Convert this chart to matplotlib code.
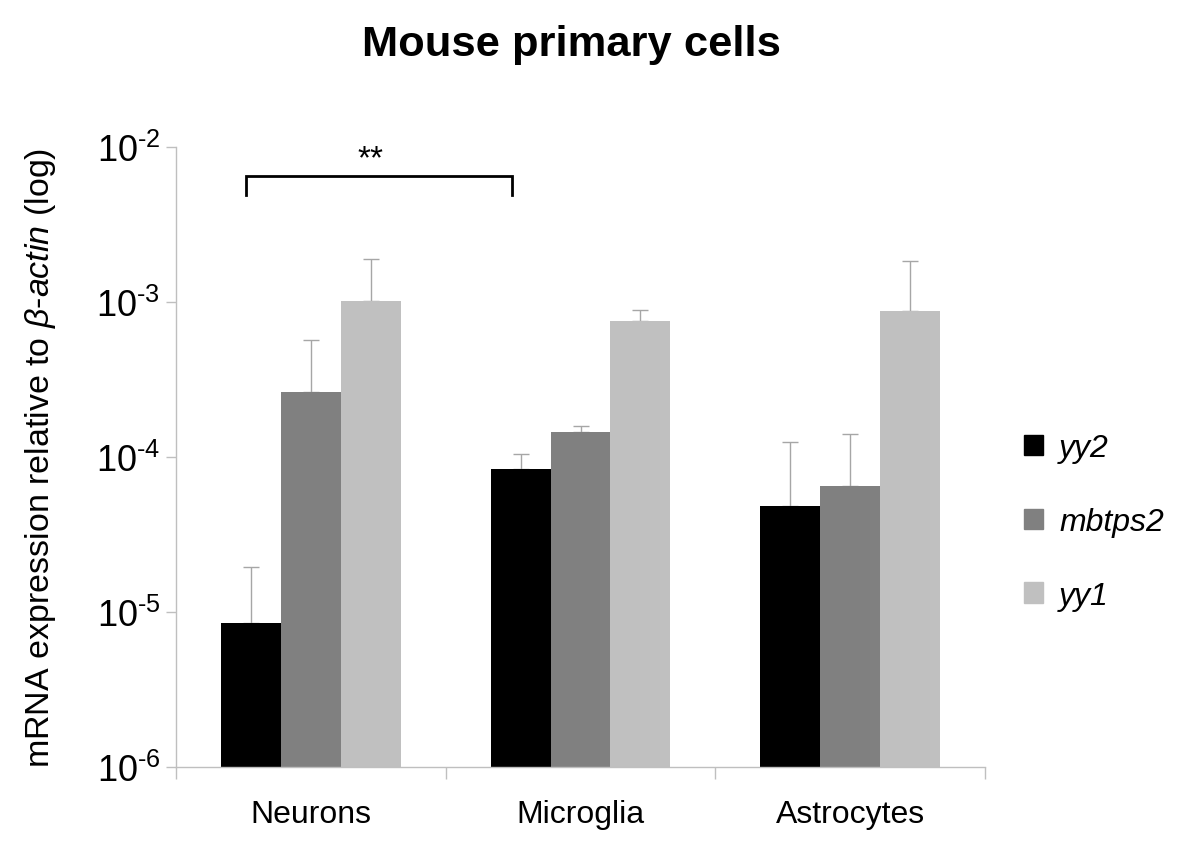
import matplotlib
matplotlib.use('Agg')
import matplotlib.pyplot as plt
import matplotlib.patches as mpatches
import numpy as np

plt.rcParams['font.family'] = ['Liberation Sans', 'DejaVu Sans']
plt.rcParams['mathtext.fontset'] = 'custom'
plt.rcParams['mathtext.rm'] = 'Liberation Sans'
plt.rcParams['mathtext.it'] = 'Liberation Sans:italic'

# ── Data ────────────────────────────────────────────────────
cell_types = ['Neurons', 'Microglia', 'Astrocytes']
genes = ['yy2', 'mbtps2', 'yy1']
yy2_mean    = [8.5e-6, 8.4e-5, 4.8e-5]
yy2_top     = [1.95e-5, 1.05e-4, 1.25e-4]
mbtps2_mean = [2.63e-4, 1.45e-4, 6.5e-5]
mbtps2_top  = [5.7e-4, 1.58e-4, 1.41e-4]
yy1_mean    = [1.01e-3, 7.55e-4, 8.75e-4]
yy1_top     = [1.89e-3, 8.9e-4, 1.84e-3]
tick_exps = [6, 5, 4, 3, 2]

means = [yy2_mean, mbtps2_mean, yy1_mean]
tops = [yy2_top, mbtps2_top, yy1_top]
colors = ['#000000', '#808080', '#c0c0c0']
AXIS_COLOR = '#bfbfbf'
ERR_COLOR = '#a6a6a6'

fig = plt.figure(figsize=(12, 8.62), dpi=100)
ax = fig.add_axes([176/1200, 1 - 768/862, 809/1200, 620/862])

x = np.arange(len(cell_types))
w = 0.222
for i, (m, t, c, g) in enumerate(zip(means, tops, colors, genes)):
    pos = x + (i - 1) * w
    m = np.array(m)
    t = np.array(t)
    ax.bar(pos, m, width=w, color=c, linewidth=0, label=g, zorder=2)
    ax.errorbar(pos, m, yerr=[np.zeros_like(m), t - m], fmt='none',
                ecolor=ERR_COLOR, elinewidth=1, capsize=6, capthick=1, zorder=1)

ax.set_yscale('log')
ax.set_ylim(1e-6, 1e-2)
ax.set_xlim(-0.5, 2.5)
ax.set_yticks([10.0 ** -k for k in tick_exps])
ax.set_yticklabels([r'$\mathregular{10^{\text{-}%d}}$' % k for k in tick_exps])
ax.yaxis.set_minor_locator(matplotlib.ticker.NullLocator())
ax.tick_params(axis='y', which='major', length=7.2, width=1, color=AXIS_COLOR,
               labelsize=26, pad=4)

ax.set_xticks([-0.5, 0.5, 1.5, 2.5])
ax.set_xticklabels([])
ax.set_xticks(x, minor=True)
ax.set_xticklabels(cell_types, minor=True)
ax.tick_params(axis='x', which='major', length=8.6, width=1, color=AXIS_COLOR)
ax.tick_params(axis='x', which='minor', length=0, labelsize=23, pad=23)

for s in ['top', 'right']:
    ax.spines[s].set_visible(False)
for s in ['left', 'bottom']:
    ax.spines[s].set_color(AXIS_COLOR)
    ax.spines[s].set_linewidth(1)

ax.set_ylabel(r'mRNA expression relative to $\mathit{\beta}$-$\mathit{actin}$ (log)',
              fontsize=24.5)
ax.yaxis.set_label_coords(-0.146, 0.5)

# significance bracket
bx0, bx1 = -0.24, 0.745
ax.plot([bx0, bx0, bx1, bx1], [4.9e-3, 6.5e-3, 6.5e-3, 4.9e-3],
        color='black', lw=2, solid_joinstyle='miter', clip_on=False, zorder=3)
ax.text(0.22, 8.4e-3, '**', ha='center', va='center', fontsize=24)

handles = [mpatches.Patch(color=c, label=g) for c, g in zip(colors, genes)]
leg = fig.legend(handles=handles, loc='center left',
                 bbox_to_anchor=(1024/1200, 1 - 523/862), frameon=False,
                 fontsize=23, handlelength=0.6, handleheight=0.6,
                 handletextpad=0.5, labelspacing=1.37, borderpad=0, borderaxespad=0)
for t in leg.get_texts():
    t.set_fontstyle('italic')

fig.suptitle('Mouse primary cells', fontsize=31.3, fontweight='bold',
             x=571/1200, y=1 - 45/862, va='center')

fig.savefig('out.png', dpi=100, facecolor='white')
